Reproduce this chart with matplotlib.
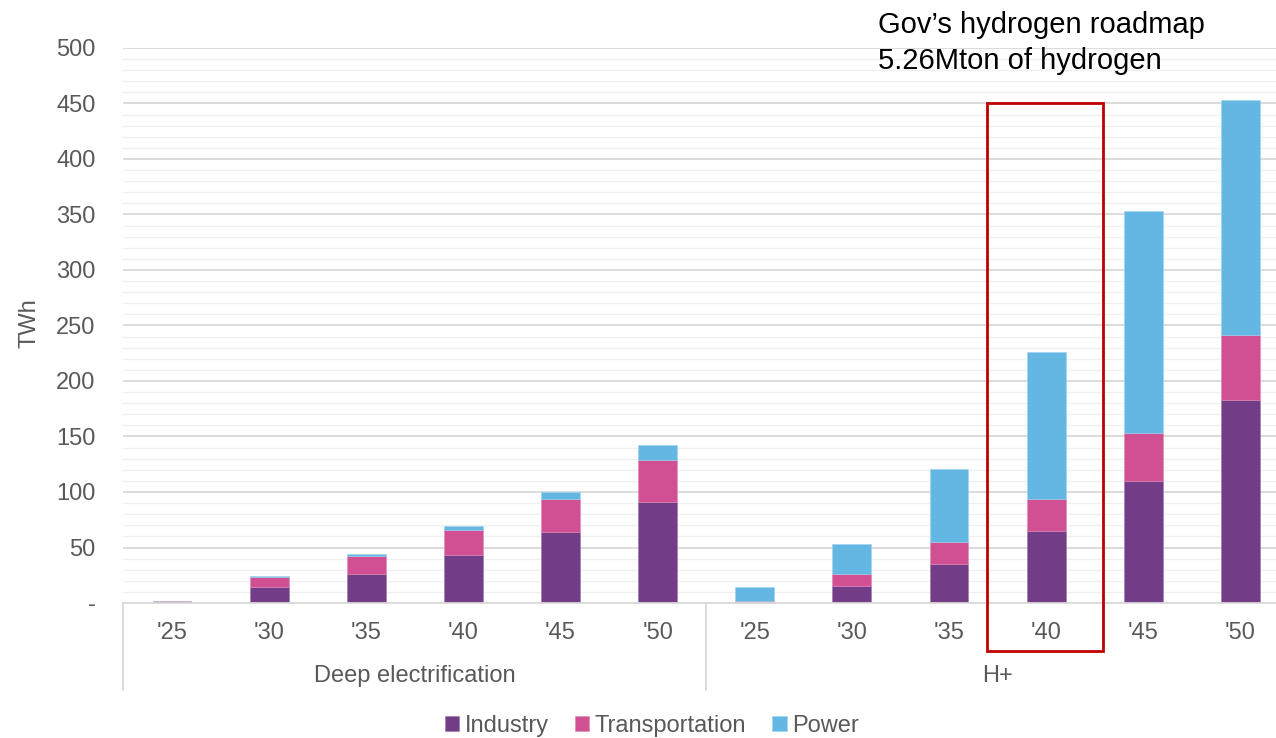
import matplotlib
matplotlib.use("Agg")
import matplotlib.pyplot as plt
from matplotlib.patches import Rectangle
from matplotlib.transforms import blended_transform_factory
import numpy as np

plt.rcParams['font.family'] = ['Liberation Sans', 'DejaVu Sans']

# Data (TWh)
scenarios = ["Deep electrification", "H+"]
years = ["'25", "'30", "'35", "'40", "'45", "'50"]
industry = [0, 14, 26.5, 43.5, 64, 91,
            0, 15.5, 35.5, 65, 110, 183]
transportation = [2, 9.5, 16, 22, 29.5, 38,
                  1.5, 11, 19.5, 29, 43.5, 58.5]
power = [0, 0.5, 2, 4, 6.5, 13,
         13, 26.5, 65.5, 132.5, 200, 211.5]
yticks = [0, 50, 100, 150, 200, 250, 300, 350, 400, 450, 500]
ytick_labels = ["-", "50", "100", "150", "200", "250", "300", "350", "400", "450", "500"]
note_lines = ["Gov\u2019s hydrogen roadmap", "5.26Mton of hydrogen"]
highlight_index = 9
highlight_top = 450

c_ind = "#723D86"
c_tra = "#D05093"
c_pow = "#63B7E2"
grey_text = "#595959"
fs = 17

fig = plt.figure(figsize=(12.76, 7.38), dpi=100)
ax = fig.add_axes([123.4 / 1276, 135 / 738, (1276 - 123.4) / 1276, 555 / 738])

n = len(industry)
x = np.arange(n)
ind = np.array(industry)
tra = np.array(transportation)
pw = np.array(power)
w = 0.40
ax.bar(x, ind, w, color=c_ind, label="Industry", zorder=3, edgecolor="#9a7aa8", linewidth=0.4)
ax.bar(x, tra, w, bottom=ind, color=c_tra, label="Transportation", zorder=3, edgecolor="#e08ab6", linewidth=0.4)
ax.bar(x, pw, w, bottom=ind + tra, color=c_pow, label="Power", zorder=3, edgecolor="#9fd3ee", linewidth=0.4)

ax.set_ylim(0, 500)
ax.set_xlim(-0.5, n - 0.5 - 13 / 97.1)
ax.set_yticks(yticks)
ax.set_yticklabels(ytick_labels, color=grey_text, fontsize=fs)
ax.set_yticks(np.arange(0, 501, 10), minor=True)
ax.tick_params(axis='y', which='both', length=0, pad=20)
ax.yaxis.grid(True, which='major', color="#D9D9D9", linewidth=1.3, zorder=0)
ax.yaxis.grid(True, which='minor', color="#F0F0F0", linewidth=1.0, zorder=0)
ax.set_xticks([])
for s in ["top", "right", "left"]:
    ax.spines[s].set_visible(False)
ax.spines["bottom"].set_color("#D9D9D9")
ax.spines["bottom"].set_linewidth(1.3)
ax.spines["bottom"].set_zorder(4)

ax.set_ylabel("TWh", fontsize=fs, color=grey_text)
ax.yaxis.set_label_coords(-(123.4 - 40) / 1152.6, 0.505)

# Multi-level category axis
tr = blended_transform_factory(ax.transData, ax.transAxes)
labels = years * len(scenarios)
for i, lab in enumerate(labels):
    ax.text(i, -30 / 555, lab, transform=tr, ha="center", va="center",
            fontsize=fs, color=grey_text)
for g, name in enumerate(scenarios):
    center = g * len(years) + (len(years) - 1) / 2
    ax.text(center, -73 / 555, name, transform=tr, ha="center", va="center",
            fontsize=fs, color=grey_text)
for xb in [-0.5, len(years) - 0.5]:
    ax.plot([xb, xb], [0, -87 / 555], transform=tr, color="#D9D9D9",
            linewidth=1.3, clip_on=False, zorder=4)

# Highlight box around the roadmap target year
box_bottom = -43.2
ax.add_patch(Rectangle((highlight_index - 0.61, box_bottom), 1.2, highlight_top - box_bottom,
                       fill=False, edgecolor="#C00000", linewidth=2, clip_on=False, zorder=5))
fig.text(878 / 1276, 1 - 25 / 738, note_lines[0], fontsize=21, color="black",
         ha="left", va="center")
fig.text(878 / 1276, 1 - 61 / 738, note_lines[1], fontsize=21, color="black",
         ha="left", va="center")

leg = fig.legend(loc="center", bbox_to_anchor=(652 / 1276, 12 / 738), ncol=3, frameon=False,
                 fontsize=fs, handlelength=0.6, handleheight=0.6, handletextpad=0.25,
                 columnspacing=1.1)
for t in leg.get_texts():
    t.set_color(grey_text)

fig.savefig("out.png", dpi=100)
